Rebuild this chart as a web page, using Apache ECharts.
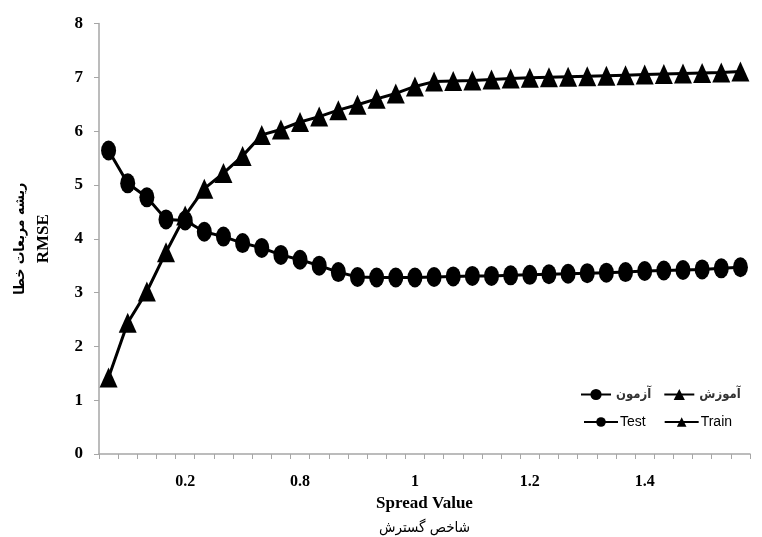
<!DOCTYPE html>
<html>
<head>
<meta charset="utf-8">
<script src="https://cdn.jsdelivr.net/npm/echarts@6/dist/echarts.min.js"></script>
<style>html,body{margin:0;padding:0;background:#fff}#c{width:762px;height:537px}</style>
</head>
<body>
<div id="c"></div>
<script>
const categories = ['p1','p2','p3','p4','p5','p6','p7','p8','p9','p10','p11','p12','p13','p14','p15','p16','p17','p18','p19','p20','p21','p22','p23','p24','p25','p26','p27','p28','p29','p30','p31','p32','p33','p34'];
const tickLabels = ['','','','','0.2','','','','','','0.8','','','','','','1','','','','','','1.2','','','','','','1.4','','','','',''];
const testValues = [5.64,5.03,4.77,4.36,4.34,4.13,4.04,3.92,3.83,3.70,3.61,3.50,3.38,3.29,3.28,3.28,3.28,3.29,3.30,3.31,3.31,3.32,3.33,3.34,3.35,3.36,3.37,3.38,3.40,3.41,3.42,3.43,3.45,3.47];
const trainValues = [1.42,2.44,3.02,3.75,4.43,4.93,5.22,5.54,5.93,6.03,6.17,6.27,6.39,6.49,6.60,6.70,6.83,6.92,6.93,6.94,6.96,6.98,6.99,7.00,7.01,7.02,7.03,7.04,7.05,7.06,7.07,7.08,7.09,7.11];
const seriesNames = ['Test','Train'];
const seriesNamesFa = ['آزمون','آموزش'];

const chart = echarts.init(document.getElementById('c'), null, {renderer:'canvas'});
const serif = '"Liberation Serif","Times New Roman",serif';
const faFont = '"DejaVu Sans Condensed","DejaVu Sans","Noto Sans",sans-serif';
const mkSeries = (name, data, symbol, size, lw) => ({
  name, type:'line', data, symbol, symbolSize:size,
  lineStyle:{color:'#000', width:lw}, itemStyle:{color:'#000'},
  emphasis:{disabled:true}, animation:false, z:3
});
chart.setOption({
  backgroundColor:'#fff',
  animation:false,
  grid:{left:99, top:23.5, right:12, bottom:83, containLabel:false, outerBoundsMode:'none'},
  legend:[
    {data:[seriesNamesFa[0], seriesNamesFa[1]], left:575, top:383, itemWidth:30, itemHeight:14, itemGap:12,
     textStyle:{fontFamily:faFont, fontWeight:'bold', fontSize:13, color:'#333'}},
    {data:[seriesNames[0], seriesNames[1]], left:578, top:410, itemWidth:34, itemHeight:12, itemGap:18,
     textStyle:{fontFamily:'"Liberation Sans",Arial,sans-serif', fontSize:14, color:'#000', padding:[0,0,0,-3]}}
  ],
  xAxis:{
    type:'category', data:categories, boundaryGap:true,
    axisLine:{lineStyle:{color:'#a6a6a6', width:1.5}},
    axisTick:{show:true, interval:0, length:5, lineStyle:{color:'#a6a6a6'}},
    axisLabel:{interval:0, margin:20, formatter:(v,i)=>tickLabels[i], fontFamily:serif, fontWeight:'bold', fontSize:16, color:'#000'},
    name:'{a|Spread Value}\n{b|شاخص گسترش}', nameLocation:'middle', nameGap:38,
    nameTextStyle:{rich:{
      a:{fontFamily:serif, fontWeight:'bold', fontSize:17, color:'#000', lineHeight:24},
      b:{fontFamily:faFont, fontSize:15, color:'#000', lineHeight:24}
    }}
  },
  yAxis:{
    type:'value', min:0, max:8, interval:1,
    splitLine:{show:false},
    axisLine:{show:true, lineStyle:{color:'#a6a6a6', width:1.5}},
    axisTick:{show:true, length:5, lineStyle:{color:'#a6a6a6'}},
    axisLabel:{margin:16, fontFamily:serif, fontWeight:'bold', fontSize:17, color:'#000'},
    name:'{b|ریشه مربعات خطا}\n{a|RMSE}', nameLocation:'middle', nameRotate:90, nameGap:43,
    nameTextStyle:{rich:{
      a:{fontFamily:serif, fontWeight:'bold', fontSize:17, color:'#000', lineHeight:24},
      b:{fontFamily:faFont, fontWeight:'bold', fontSize:14, color:'#000', lineHeight:24}
    }}
  },
  series:[
    mkSeries(seriesNames[0], testValues, 'circle', [15,20], 3),
    mkSeries(seriesNames[1], trainValues, 'triangle', [18,20], 3),
    mkSeries(seriesNamesFa[0], [], 'circle', [12,14], 4.5),
    mkSeries(seriesNamesFa[1], [], 'triangle', [14,14], 4.5)
  ]
});
</script>
</body>
</html>
